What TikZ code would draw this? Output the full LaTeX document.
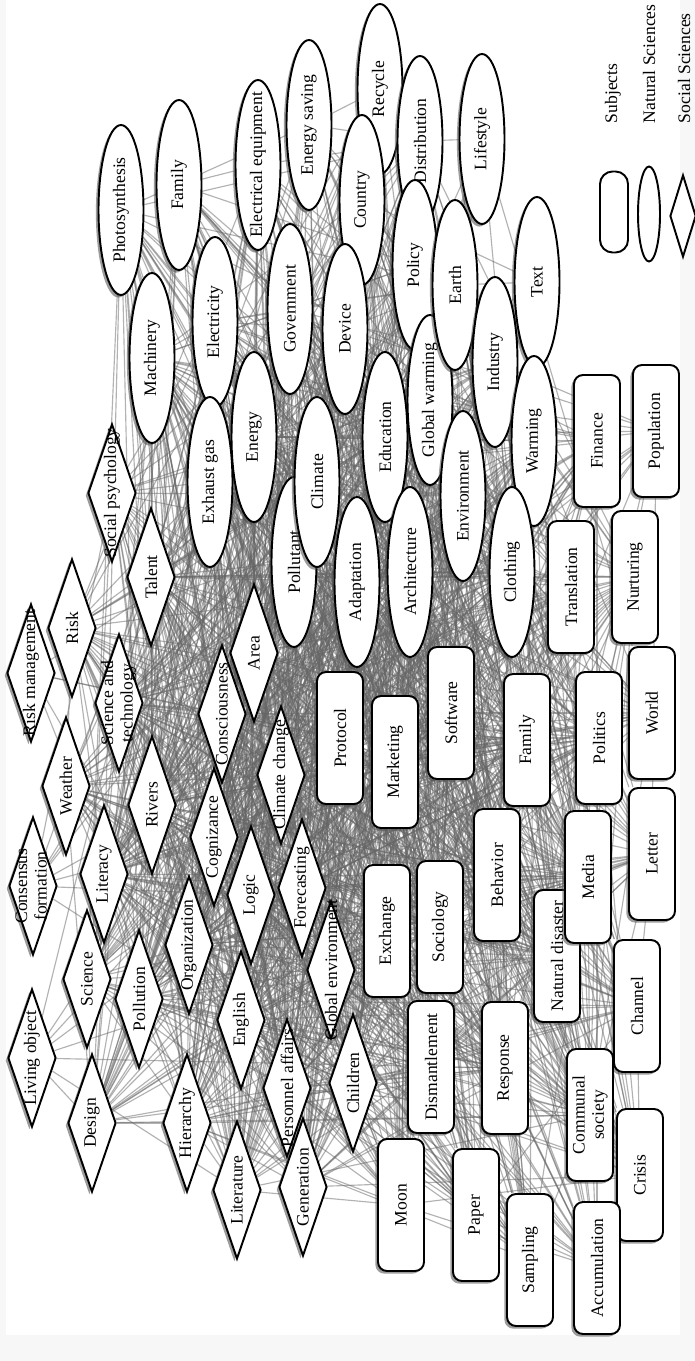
\documentclass[tikz,border=0pt]{standalone}
\usepackage{fontspec}
\setmainfont{Liberation Serif}
\usetikzlibrary{shapes.geometric,shadows}

\pgfdeclarelayer{fond}
\pgfdeclarelayer{liens}
\pgfsetlayers{fond,liens,main}

\newcommand{\dtxt}[1]{\makebox[0pt]{#1}}
\newcommand{\dtwo}[2]{\makebox[0pt]{\begin{tabular}{@{}c@{}}#1\\#2\end{tabular}}}

% noeud/poids pour le tirage des liens
\newcommand{\listenoeuds}{photo/0.3, famN/0.3, eleq/0.35, ensav/0.25, recyc/0.2,
  country/0.4, distr/0.3, life/0.12, mach/0.45, elec/0.55, govt/0.55, device/0.55,
  policy/0.5, earth/0.5, txt/0.12, industry/0.55, glob/0.65, educ/0.7, envir/0.7,
  warm/0.5, cloth/0.6, arch/0.7, adapt/0.75, climate/0.75, pollut/0.75, energy/0.7,
  exhaust/0.65, talent/0.6, socpsy/0.35, risk/0.4, riskman/0.08, scitech/0.5,
  weather/0.4, consens/0.08, literacy/0.55, rivers/0.7, consc/0.75, area/0.8,
  cogn/0.8, climch/0.8, logic/0.8, forec/0.8, organ/0.75, pollution/0.6,
  science/0.4, living/0.08, design/0.35, hier/0.5, english/0.7, personnel/0.7,
  globenv/0.8, children/0.7, literature/0.45, generation/0.5, protocol/0.8,
  marketing/0.75, software/0.7, famS/0.6, politics/0.45, world/0.3, transl/0.45,
  nurt/0.35, finance/0.25, popul/0.12, exchange/0.75, sociol/0.7, behav/0.65,
  natdis/0.55, media/0.5, letter/0.3, channel/0.35, dismant/0.65, response/0.6,
  communal/0.45, crisis/0.3, moon/0.45, paper/0.4, sampling/0.3, accum/0.3}

\begin{document}
\begin{tikzpicture}[x=0.02cm, y=-0.02cm,
    every node/.style={font=\fontsize{10}{11}\selectfont, rotate=90, draw, fill=white, line width=1.1pt, inner sep=0pt},
    ombre/.style={drop shadow={shadow xshift=-1.5pt, shadow yshift=-1.5pt, opacity=0.55, fill=black!70}},
    subj/.style={rectangle, rounded corners=0.18cm, minimum width=2.64cm, minimum height=0.92cm, align=center, ombre},
    nat/.style={ellipse, minimum width=3.4cm, minimum height=0.9cm, ombre},
    soc/.style={diamond, minimum width=2.76cm, minimum height=0.96cm, ombre},
    lien/.style={draw=black!60, line width=0.65pt, opacity=0.5},
    leg/.style={draw=none, fill=none, anchor=west}
  ]
\useasboundingbox (0,0) rectangle (695,1361);
\begin{pgfonlayer}{fond}
  \fill[gray!6] (0,0) rectangle (695,1361);
  \fill[white] (6,0) rectangle (680,1335);
\end{pgfonlayer}

% Natural Sciences
\node[nat] (photo) at (121,210) {\dtxt{Photosynthesis}};
\node[nat] (famN) at (179,185) {\dtxt{Family}};
\node[nat] (eleq) at (258,165) {\dtxt{Electrical equipment}};
\node[nat] (ensav) at (309,125) {\dtxt{Energy saving}};
\node[nat] (recyc) at (380,89) {\dtxt{Recycle}};
\node[nat] (country) at (362,200) {\dtxt{Country}};
\node[nat] (distr) at (420,141) {\dtxt{Distribution}};
\node[nat] (life) at (482,139) {\dtxt{Lifestyle}};
\node[nat] (mach) at (152,358) {\dtxt{Machinery}};
\node[nat] (elec) at (215,322) {\dtxt{Electricity}};
\node[nat] (govt) at (290,309) {\dtxt{Government}};
\node[nat] (device) at (345,329) {\dtxt{Device}};
\node[nat] (policy) at (415,265) {\dtxt{Policy}};
\node[nat] (glob) at (430,400) {\dtxt{Global warming}};
\node[nat] (earth) at (455,285) {\dtxt{Earth}};
\node[nat] (txt) at (537,282) {\dtxt{Text}};
\node[nat] (industry) at (495,362) {\dtxt{Industry}};
\node[nat] (educ) at (385,437) {\dtxt{Education}};
\node[nat] (envir) at (463,496) {\dtxt{Environment}};
\node[nat] (warm) at (534,441) {\dtxt{Warming}};
\node[nat] (cloth) at (512,572) {\dtxt{Clothing}};
\node[nat] (arch) at (410,572) {\dtxt{Architecture}};
\node[nat] (adapt) at (357,582) {\dtxt{Adaptation}};
\node[nat] (pollut) at (294,562) {\dtxt{Pollutant}};
\node[nat] (climate) at (317,482) {\dtxt{Climate}};
\node[nat] (energy) at (254,437) {\dtxt{Energy}};
\node[nat] (exhaust) at (210,482) {\dtxt{Exhaust gas}};

% Social Sciences
\node[soc] (socpsy) at (112,493) {\dtxt{Social psychology}};
\node[soc] (talent) at (151,577) {\dtxt{Talent}};
\node[soc] (risk) at (72,628) {\dtxt{Risk}};
\node[soc] (riskman) at (31,673) {\dtxt{Risk management}};
\node[soc] (scitech) at (119,703) {\dtwo{Science and}{technology}};
\node[soc] (weather) at (66,786) {\dtxt{Weather}};
\node[soc] (consens) at (33,886) {\dtwo{Consensus}{formation}};
\node[soc] (literacy) at (104,874) {\dtxt{Literacy}};
\node[soc] (rivers) at (152,805) {\dtxt{Rivers}};
\node[soc] (area) at (254,653) {\dtxt{Area}};
\node[soc] (consc) at (222,714) {\dtxt{Consciousness}};
\node[soc] (climch) at (281,775) {\dtxt{Climate change}};
\node[soc] (cogn) at (214,837) {\dtxt{Cognizance}};
\node[soc] (logic) at (251,895) {\dtxt{Logic}};
\node[soc] (forec) at (302,888) {\dtxt{Forecasting}};
\node[soc] (organ) at (189,945) {\dtxt{Organization}};
\node[soc] (science) at (87,979) {\dtxt{Science}};
\node[soc] (pollution) at (139,999) {\dtxt{Pollution}};
\node[soc] (globenv) at (331,970) {\dtxt{Global environment}};
\node[soc] (english) at (241,1020) {\dtxt{English}};
\node[soc] (living) at (32,1058) {\dtxt{Living object}};
\node[soc] (design) at (92,1123) {\dtxt{Design}};
\node[soc] (hier) at (187,1123) {\dtxt{Hierarchy}};
\node[soc] (personnel) at (287,1088) {\dtxt{Personnel affairs}};
\node[soc] (children) at (353,1083) {\dtxt{Children}};
\node[soc] (literature) at (237,1190) {\dtxt{Literature}};
\node[soc] (generation) at (303,1187) {\dtxt{Generation}};

% Subjects
\node[subj] (protocol) at (340,738) {Protocol};
\node[subj] (marketing) at (395,762) {Marketing};
\node[subj] (software) at (451,713) {Software};
\node[subj] (famS) at (527,740) {Family};
\node[subj] (politics) at (599,738) {Politics};
\node[subj] (world) at (652,713) {World};
\node[subj] (transl) at (571,587) {Translation};
\node[subj] (nurt) at (635,577) {Nurturing};
\node[subj] (finance) at (597,441) {Finance};
\node[subj] (popul) at (656,431) {Population};
\node[subj] (exchange) at (387,931) {Exchange};
\node[subj] (sociol) at (440,927) {Sociology};
\node[subj] (behav) at (497,875) {Behavior};
\node[subj] (natdis) at (557,956) {Natural disaster};
\node[subj] (media) at (588,877) {Media};
\node[subj] (letter) at (652,854) {Letter};
\node[subj] (channel) at (637,1006) {Channel};
\node[subj] (dismant) at (431,1067) {Dismantlement};
\node[subj] (response) at (505,1068) {Response};
\node[subj] (communal) at (590,1115) {Communal\\society};
\node[subj] (crisis) at (640,1175) {Crisis};
\node[subj] (moon) at (401,1205) {Moon};
\node[subj] (paper) at (476,1215) {Paper};
\node[subj] (sampling) at (530,1260) {Sampling};
\node[subj] (accum) at (597,1268) {Accumulation};

% Legende
\node[rectangle, rounded corners=0.25cm, minimum width=1.62cm, minimum height=0.56cm] (lsubj) at (614,212) {};
\node[ellipse, minimum width=1.9cm, minimum height=0.44cm] (lnat) at (649,214) {};
\node[diamond, minimum width=1.64cm, minimum height=0.52cm] (lsoc) at (683,216) {};
\node[leg] (tsubj) at (613,124) {Subjects};
\node[leg] (tnat) at (649,124) {Natural Sciences};
\node[leg] (tsoc) at (684,124) {Social Sciences};

% Liens tires au hasard
\pgfmathsetseed{42}
\begin{pgfonlayer}{liens}
\foreach \a/\wa [count=\i] in \listenoeuds {
  \foreach \b/\wb [count=\j] in \listenoeuds {
    \ifnum\j>\i
      \pgfmathtruncatemacro{\tire}{rnd<2.2*\wa*\wb}
      \ifnum\tire=1 \draw[lien] (\a) -- (\b); \fi
    \fi
  }
}
\end{pgfonlayer}
\end{tikzpicture}
\end{document}
